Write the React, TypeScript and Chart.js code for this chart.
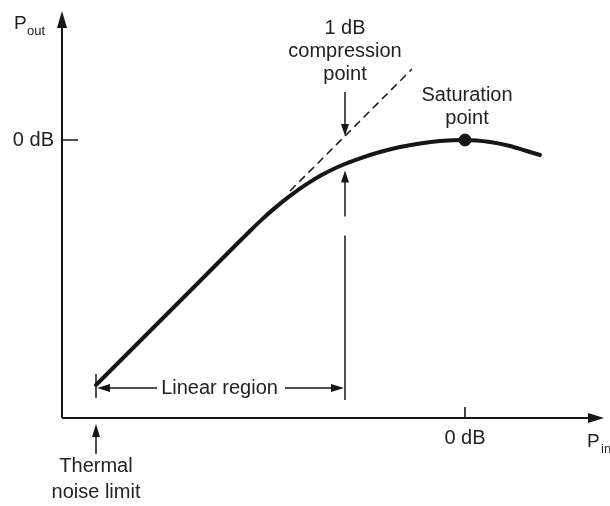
import React, { useEffect, useRef } from "react";
import { Chart, registerables } from "chart.js";

Chart.register(...registerables);

// Transfer curve (x: input level, y: output level, arbitrary dB units; 0 = saturation)
const curveX = [-36.9, -31.5, -26.5, -21.5, -20.3, -19.0, -17.5, -15.8, -14.2, -12.5, -10.5, -8.5, -6.5, -4.5, -2.5, 0, 2.5, 4.5, 6, 7.5];
const curveY = [-24.5, -19.1, -14.1, -9.1, -7.94, -6.79, -5.59, -4.39, -3.43, -2.6, -1.83, -1.2, -0.7, -0.34, -0.1, 0, -0.2, -0.6, -1.05, -1.5];
// Linear extrapolation (dashed)
const tangentX = [-17.5, -5.3];
const tangentY = [-5.1, 7.1];
// Saturation point
const satX = [0];
const satY = [0];
// Key levels
const thermalX = -36.9;
const compressionX = -12.0;
const compressionIdealY = 0.4;
const compressionActualY = -2.75;
const linearRegionY = -24.8;
// Axis ranges
const xMin = -40.3;
const xMax = 13.5;
const yMin = -27.8;
const yMax = 12.0;
const tickLabel = "0 dB";

const FONT = '"Liberation Sans", Arial, sans-serif';
const INK = "#161616";
const TXT = "#222222";

function arrow(ctx: CanvasRenderingContext2D, x1: number, y1: number, x2: number, y2: number, len = 12, half = 4) {
  const a = Math.atan2(y2 - y1, x2 - x1);
  ctx.beginPath();
  ctx.moveTo(x1, y1);
  ctx.lineTo(x2 - Math.cos(a) * (len - 2), y2 - Math.sin(a) * (len - 2));
  ctx.stroke();
  ctx.beginPath();
  ctx.moveTo(x2, y2);
  ctx.lineTo(x2 - Math.cos(a) * len - Math.sin(a) * half, y2 - Math.sin(a) * len + Math.cos(a) * half);
  ctx.lineTo(x2 - Math.cos(a) * len + Math.sin(a) * half, y2 - Math.sin(a) * len - Math.cos(a) * half);
  ctx.closePath();
  ctx.fill();
}

const diagramPlugin = {
  id: "diagram",
  beforeDraw(chart: any) {
    const ctx = chart.ctx as CanvasRenderingContext2D;
    ctx.save();
    ctx.fillStyle = "#ffffff";
    ctx.fillRect(0, 0, chart.width, chart.height);
    ctx.restore();
  },
  afterDatasetsDraw(chart: any) {
    const ctx = chart.ctx as CanvasRenderingContext2D;
    const xs = chart.scales.x;
    const ys = chart.scales.y;
    const X = (v: number) => xs.getPixelForValue(v);
    const Y = (v: number) => ys.getPixelForValue(v);
    const ox = X(xMin);
    const oy = Y(yMin);
    ctx.save();
    ctx.strokeStyle = INK;
    ctx.fillStyle = INK;
    ctx.lineCap = "butt";

    // Axes
    ctx.lineWidth = 2;
    ctx.beginPath();
    ctx.moveTo(ox, oy);
    ctx.lineTo(ox, Y(yMax) - 4);
    ctx.stroke();
    ctx.beginPath();
    ctx.moveTo(ox, oy);
    ctx.lineTo(X(xMax) - 2, oy);
    ctx.stroke();
    // arrowheads
    ctx.beginPath();
    ctx.moveTo(ox, Y(yMax) - 9);
    ctx.lineTo(ox - 5, Y(yMax) + 8);
    ctx.lineTo(ox + 5, Y(yMax) + 8);
    ctx.closePath();
    ctx.fill();
    ctx.beginPath();
    ctx.moveTo(X(xMax) + 4, oy);
    ctx.lineTo(X(xMax) - 12, oy - 5);
    ctx.lineTo(X(xMax) - 12, oy + 5);
    ctx.closePath();
    ctx.fill();

    // Ticks at 0 dB
    ctx.lineWidth = 1.6;
    ctx.beginPath();
    ctx.moveTo(ox, Y(0));
    ctx.lineTo(ox + 16, Y(0));
    ctx.moveTo(X(0), oy);
    ctx.lineTo(X(0), oy - 11);
    ctx.stroke();

    // Text
    ctx.fillStyle = TXT;
    ctx.font = `20px ${FONT}`;
    ctx.textBaseline = "middle";
    ctx.textAlign = "right";
    ctx.fillText(tickLabel, ox - 8, Y(0));
    ctx.textAlign = "center";
    ctx.fillText(tickLabel, X(0), oy + 20);

    // Axis titles
    ctx.textAlign = "left";
    ctx.textBaseline = "alphabetic";
    ctx.font = `19px ${FONT}`;
    ctx.fillText("P", 14, 29);
    ctx.font = `13px ${FONT}`;
    ctx.fillText("out", 27, 35);
    ctx.font = `19px ${FONT}`;
    ctx.fillText("P", 587, 447);
    ctx.font = `13px ${FONT}`;
    ctx.fillText("in", 601, 453);

    // 1 dB compression annotation
    const cx = X(compressionX);
    ctx.font = `20px ${FONT}`;
    ctx.textAlign = "center";
    ctx.textBaseline = "middle";
    ctx.fillText("1 dB", cx, 28);
    ctx.fillText("compression", cx, 51);
    ctx.fillText("point", cx, 74);
    ctx.strokeStyle = INK;
    ctx.fillStyle = INK;
    ctx.lineWidth = 1.5;
    arrow(ctx, cx, 92, cx, Y(compressionIdealY));
    arrow(ctx, cx, Y(compressionActualY) + 49, cx, Y(compressionActualY) + 3);
    ctx.beginPath();
    ctx.moveTo(cx, Y(compressionActualY) + 68);
    ctx.lineTo(cx, Y(linearRegionY) + 12);
    ctx.stroke();

    // Saturation label
    ctx.fillStyle = TXT;
    ctx.fillText("Saturation", X(satX[0]) + 2, 95);
    ctx.fillText("point", X(satX[0]) + 2, 118);

    // Linear region
    const tx = X(thermalX);
    const ly = Y(linearRegionY);
    ctx.fillText("Linear region", (tx + cx) / 2 - 1, ly);
    ctx.fillStyle = INK;
    ctx.lineWidth = 1.5;
    ctx.beginPath();
    ctx.moveTo(tx, ly - 14);
    ctx.lineTo(tx, ly + 10);
    ctx.stroke();
    arrow(ctx, 157, ly, tx + 1, ly, 13, 4);
    arrow(ctx, 285, ly, cx - 1, ly, 13, 4);

    // Thermal noise limit
    arrow(ctx, tx, 454, tx, oy + 6, 13, 4);
    ctx.fillStyle = TXT;
    ctx.fillText("Thermal", tx, 466);
    ctx.fillText("noise limit", tx, 492);

    ctx.restore();
  },
};

export default function App() {
  const canvasRef = useRef<HTMLCanvasElement | null>(null);

  useEffect(() => {
    const canvas = canvasRef.current;
    if (!canvas) return;
    const chart = new Chart(canvas, {
      type: "scatter",
      data: {
        datasets: [
          {
            label: "Transfer curve",
            data: curveX.map((x, i) => ({ x, y: curveY[i] })),
            showLine: true,
            borderColor: INK,
            borderWidth: 4,
            pointRadius: 0,
            cubicInterpolationMode: "monotone",
            borderCapStyle: "round",
          } as any,
          {
            label: "Linear extrapolation",
            data: tangentX.map((x, i) => ({ x, y: tangentY[i] })),
            showLine: true,
            borderColor: INK,
            borderWidth: 1.5,
            borderDash: [8, 5],
            pointRadius: 0,
          } as any,
          {
            label: "Saturation point",
            data: satX.map((x, i) => ({ x, y: satY[i] })),
            backgroundColor: INK,
            borderColor: INK,
            pointRadius: 6,
          } as any,
        ],
      },
      options: {
        responsive: false,
        animation: false,
        layout: { padding: { left: 62, top: 20, right: 10, bottom: 88 } },
        plugins: { legend: { display: false }, tooltip: { enabled: false } },
        scales: {
          x: { type: "linear", min: xMin, max: xMax, display: false },
          y: { type: "linear", min: yMin, max: yMax, display: false },
        },
      },
      plugins: [diagramPlugin],
    });
    return () => chart.destroy();
  }, []);

  return (
    <div style={{ position: "absolute", left: 0, top: 0, width: 610, height: 506, background: "#fff" }}>
      <canvas ref={canvasRef} width={610} height={506} style={{ width: 610, height: 506, display: "block" }} />
    </div>
  );
}
